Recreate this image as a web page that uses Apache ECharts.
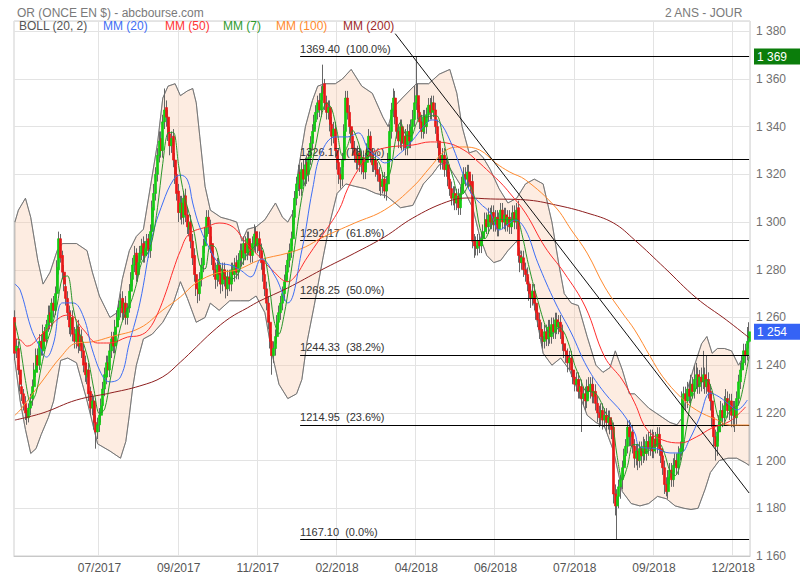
<!DOCTYPE html>
<html><head><meta charset="utf-8">
<script src="https://cdn.jsdelivr.net/npm/echarts@6/dist/echarts.min.js"></script>
<style>html,body{margin:0;padding:0;background:#fff}#c{width:800px;height:580px}</style>
</head><body><div id="c"></div>
<script>
// ---- DATA ----
const opens = [
1260,1246,1247,1238,1231,1228,1224,1221,1218,1222,
1226,1231,1237,1244,1240,1250,1246,1254,1251,1257,
1262,1258,1266,1263,1270,1280,1293,1286,1279,1273,
1268,1262,1255,1260,1253,1250,1256,1248,1252,1246,
1241,1235,1238,1229,1222,1225,1216,1212,1215,1219,
1223,1230,1235,1241,1238,1246,1252,1248,1256,1259,
1264,1268,1262,1266,1260,1264,1271,1276,1282,1287,
1278,1283,1287,1291,1286,1289,1293,1288,1296,1305,
1312,1320,1328,1335,1330,1342,1348,1344,1337,1332,
1336,1326,1320,1313,1304,1308,1302,1311,1303,1297,
1300,1292,1286,1278,1272,1270,1276,1282,1290,1294,
1302,1298,1291,1285,1280,1276,1282,1278,1274,1280,
1277,1272,1277,1274,1280,1278,1283,1279,1284,1288,
1285,1291,1287,1293,1290,1286,1291,1296,1290,1293,
1288,1284,1278,1272,1266,1258,1250,1244,1247,1252,
1258,1262,1266,1270,1275,1279,1284,1288,1293,1302,
1310,1316,1321,1314,1322,1318,1325,1320,1327,1333,
1338,1342,1346,1351,1347,1354,1358,1350,1346,1348,
1341,1336,1339,1330,1325,1320,1318,1326,1338,1352,
1346,1340,1336,1331,1328,1325,1329,1324,1327,1321,
1325,1330,1336,1328,1324,1326,1322,1320,1317,1315,
1318,1313,1316,1326,1338,1347,1352,1344,1338,1334,
1340,1333,1336,1331,1338,1334,1340,1343,1350,1353,
1346,1342,1338,1344,1340,1345,1349,1346,1350,1347,
1340,1334,1328,1325,1328,1322,1324,1318,1314,1310,
1312,1308,1311,1306,1312,1316,1320,1318,1321,1317,
1317,1292,1290,1289,1292,1290,1293,1296,1301,1298,
1303,1300,1304,1299,1302,1297,1301,1305,1300,1303,
1299,1302,1298,1301,1304,1300,1306,1286,1283,1285,
1280,1278,1274,1270,1268,1271,1266,1262,1259,1255,
1252,1250,1254,1251,1256,1252,1257,1254,1259,1256,
1258,1254,1249,1246,1244,1241,1243,1238,1235,1232,
1234,1229,1231,1226,1228,1225,1231,1229,1232,1227,
1229,1224,1220,1218,1221,1217,1219,1216,1218,1215,
1214,1186,1181,1185,1189,1192,1197,1202,1206,1214,
1210,1212,1206,1201,1204,1200,1205,1202,1206,1203,
1208,1205,1210,1204,1209,1206,1211,1205,1202,1197,
1190,1187,1193,1196,1192,1198,1200,1197,1203,1204,
1226,1228,1225,1230,1227,1232,1229,1234,1236,1231,
1235,1233,1236,1231,1234,1229,1225,1218,1210,1206,
1212,1216,1221,1218,1223,1226,1221,1225,1219,1222,
1218,1226,1233,1238,1241,1246,1244,1250];
const closes = [
1245,1248,1238,1232,1228,1224,1220,1218,1222,1225,
1231,1238,1244,1240,1250,1247,1254,1250,1257,1261,
1258,1266,1263,1270,1281,1293,1285,1279,1274,1268,
1262,1256,1260,1253,1250,1255,1248,1252,1246,1240,
1236,1238,1228,1222,1225,1216,1212,1215,1219,1223,
1230,1236,1241,1238,1246,1251,1248,1256,1260,1264,
1267,1262,1266,1260,1264,1271,1276,1282,1286,1278,
1283,1287,1290,1286,1289,1292,1288,1296,1306,1312,
1320,1328,1334,1330,1342,1347,1344,1337,1332,1335,
1326,1320,1312,1304,1308,1302,1310,1303,1298,1300,
1292,1285,1278,1272,1270,1276,1282,1290,1294,1302,
1298,1290,1285,1280,1276,1282,1278,1274,1280,1276,
1272,1277,1274,1280,1278,1282,1279,1284,1288,1285,
1291,1287,1293,1289,1286,1291,1295,1290,1293,1288,
1283,1278,1272,1266,1258,1250,1244,1247,1252,1258,
1262,1266,1270,1275,1279,1284,1288,1293,1302,1310,
1316,1320,1314,1322,1318,1324,1320,1327,1333,1338,
1342,1346,1350,1347,1354,1357,1350,1346,1348,1341,
1336,1339,1330,1325,1320,1318,1326,1338,1352,1346,
1340,1336,1331,1328,1325,1329,1324,1327,1321,1325,
1330,1336,1328,1324,1326,1322,1320,1317,1315,1318,
1313,1316,1326,1338,1347,1352,1344,1338,1334,1340,
1333,1336,1331,1338,1334,1340,1343,1350,1353,1346,
1342,1338,1344,1340,1345,1349,1346,1350,1347,1340,
1334,1328,1325,1328,1322,1324,1318,1314,1310,1312,
1308,1311,1306,1312,1316,1320,1318,1321,1317,1315,
1292,1290,1289,1292,1290,1293,1296,1301,1298,1303,
1300,1304,1299,1302,1297,1301,1305,1300,1303,1299,
1302,1298,1301,1304,1300,1305,1286,1283,1285,1280,
1278,1274,1270,1268,1271,1266,1262,1259,1255,1252,
1250,1254,1251,1256,1252,1257,1254,1259,1256,1258,
1254,1249,1246,1244,1241,1243,1238,1235,1232,1234,
1229,1231,1226,1228,1225,1231,1229,1232,1227,1229,
1224,1220,1218,1221,1217,1219,1216,1218,1215,1213,
1186,1181,1185,1189,1192,1197,1202,1206,1214,1210,
1212,1206,1201,1204,1200,1205,1202,1206,1203,1208,
1205,1210,1204,1209,1206,1211,1205,1202,1197,1190,
1187,1193,1196,1192,1198,1200,1197,1203,1205,1226,
1228,1225,1230,1227,1232,1229,1234,1236,1231,1235,
1233,1236,1231,1234,1229,1225,1218,1210,1206,1212,
1216,1221,1218,1223,1226,1221,1225,1219,1222,1218,
1226,1233,1238,1241,1246,1244,1250,1254];
const highs = [
1263,1251,1250,1240,1234,1230,1227,1223,1224,1228,
1234,1241,1247,1247,1253,1253,1257,1256,1259,1265,
1265,1268,1269,1273,1284,1296,1295,1288,1282,1276,
1271,1265,1263,1263,1256,1258,1259,1255,1255,1249,
1244,1241,1241,1231,1228,1227,1219,1218,1222,1226,
1233,1239,1244,1244,1249,1254,1254,1259,1263,1267,
1270,1271,1268,1269,1266,1274,1279,1285,1290,1289,
1286,1290,1293,1294,1292,1295,1295,1299,1309,1316,
1323,1331,1338,1338,1345,1356,1351,1347,1340,1338,
1339,1329,1323,1316,1311,1311,1313,1314,1306,1303,
1303,1295,1289,1281,1275,1279,1285,1293,1298,1305,
1305,1301,1294,1288,1283,1285,1285,1281,1283,1283,
1280,1280,1280,1283,1283,1285,1286,1287,1291,1291,
1294,1294,1296,1296,1292,1294,1299,1298,1296,1296,
1291,1287,1281,1275,1269,1261,1253,1250,1255,1261,
1265,1269,1273,1278,1282,1287,1291,1296,1305,1313,
1319,1324,1324,1325,1326,1327,1328,1330,1336,1341,
1345,1349,1353,1354,1357,1366,1360,1353,1351,1351,
1344,1342,1342,1333,1328,1323,1329,1341,1355,1355,
1349,1343,1339,1334,1331,1332,1332,1330,1330,1329,
1333,1339,1338,1331,1329,1329,1325,1323,1320,1321,
1321,1319,1329,1341,1350,1356,1355,1347,1341,1343,
1343,1339,1339,1341,1341,1343,1347,1357,1369.4,1358,
1349,1345,1347,1347,1348,1352,1352,1353,1353,1350,
1343,1337,1331,1331,1331,1327,1327,1321,1317,1315,
1315,1314,1314,1315,1319,1323,1323,1324,1324,1320,
1320,1295,1294,1295,1295,1296,1299,1304,1304,1306,
1306,1307,1307,1305,1305,1304,1308,1308,1306,1306,
1305,1305,1304,1307,1307,1308,1309,1289,1288,1288,
1283,1281,1277,1273,1274,1274,1269,1265,1262,1258,
1255,1257,1257,1259,1259,1260,1260,1262,1262,1261,
1261,1257,1252,1249,1247,1246,1246,1241,1238,1237,
1237,1234,1234,1231,1231,1234,1235,1235,1235,1232,
1232,1227,1223,1224,1224,1222,1222,1221,1221,1218,
1216,1190,1188,1192,1194,1200,1205,1209,1217,1217,
1216,1215,1209,1207,1207,1208,1208,1210,1209,1211,
1212,1213,1213,1212,1212,1214,1214,1208,1205,1200,
1193,1196,1199,1199,1201,1203,1203,1206,1208,1229,
1231,1231,1233,1233,1236,1235,1240,1241,1239,1238,
1239,1246,1239,1244,1237,1232,1228,1221,1213,1215,
1219,1225,1224,1227,1230,1229,1228,1228,1225,1225,
1229,1236,1241,1244,1249,1249,1256,1258];
const lows = [
1242,1243,1236,1229,1225,1221,1217,1215,1216,1219,
1223,1228,1235,1237,1238,1244,1244,1247,1249,1254,
1255,1256,1260,1261,1268,1278,1283,1276,1271,1265,
1259,1253,1252,1250,1247,1247,1245,1246,1243,1237,
1233,1232,1225,1219,1219,1213,1205,1209,1212,1216,
1220,1227,1232,1235,1235,1243,1245,1245,1253,1256,
1260,1259,1259,1257,1257,1262,1268,1273,1279,1275,
1275,1280,1284,1283,1283,1286,1285,1285,1293,1302,
1309,1317,1325,1327,1327,1339,1340,1334,1328,1329,
1323,1316,1309,1300,1301,1299,1299,1300,1295,1294,
1289,1282,1275,1269,1266,1267,1273,1279,1287,1291,
1295,1287,1282,1277,1272,1273,1275,1270,1271,1273,
1268,1269,1271,1271,1275,1275,1276,1276,1281,1282,
1282,1284,1284,1286,1283,1283,1288,1287,1287,1285,
1280,1275,1269,1263,1255,1247,1236,1241,1244,1249,
1255,1259,1263,1267,1272,1276,1281,1285,1290,1299,
1307,1313,1311,1311,1315,1315,1316,1317,1324,1330,
1335,1339,1343,1344,1344,1351,1347,1343,1343,1338,
1332,1333,1327,1322,1316,1314,1315,1323,1335,1343,
1337,1333,1328,1325,1322,1322,1321,1320,1318,1318,
1322,1327,1325,1321,1321,1319,1317,1313,1311,1312,
1310,1309,1313,1323,1335,1344,1341,1335,1331,1331,
1330,1330,1328,1328,1331,1331,1337,1340,1347,1343,
1339,1335,1335,1337,1337,1342,1343,1343,1344,1337,
1331,1325,1322,1322,1319,1319,1315,1311,1307,1307,
1305,1305,1303,1303,1309,1313,1315,1315,1314,1312,
1289,1285,1286,1286,1287,1287,1290,1293,1295,1295,
1297,1297,1296,1296,1294,1294,1298,1297,1297,1296,
1296,1295,1295,1298,1297,1297,1283,1279,1280,1277,
1275,1271,1267,1264,1265,1263,1259,1256,1251,1248,
1247,1247,1248,1248,1249,1249,1251,1251,1253,1253,
1251,1246,1243,1241,1237,1238,1235,1232,1229,1229,
1226,1226,1212,1223,1221,1222,1226,1226,1224,1224,
1221,1216,1214,1215,1213,1214,1212,1213,1211,1209,
1182,1177,1167.1,1180,1184,1188,1193,1198,1203,1206,
1206,1203,1197,1198,1196,1197,1198,1199,1200,1200,
1202,1202,1201,1201,1203,1203,1202,1199,1194,1186,
1185,1184,1190,1189,1189,1195,1194,1194,1200,1202,
1222,1221,1222,1224,1224,1226,1226,1230,1228,1228,
1229,1230,1228,1228,1226,1221,1214,1206,1200,1202,
1208,1212,1214,1215,1219,1218,1217,1214,1214,1212,
1215,1223,1230,1235,1238,1240,1242,1247];

// moving averages and bands: [candle index, value]
const mm7 = [[0,1258],[3,1248],[6,1233.6],[9,1224.1],[12,1228.3],[15,1239.3],[18,1248.9],[21,1256.1],[24,1265.1],[27,1276.7],[30,1277.4],[33,1264.6],[36,1254.9],[39,1249.1],[42,1241.1],[45,1229.3],[48,1219.6],[51,1221.6],[54,1233.3],[57,1245.1],[60,1256],[63,1262.1],[66,1266.6],[69,1273.9],[72,1283.1],[75,1286.4],[78,1292.4],[81,1306],[84,1324.6],[87,1337.4],[90,1337.6],[93,1323.7],[96,1311.7],[99,1303.6],[102,1295.1],[105,1281.9],[108,1280.3],[111,1290.3],[114,1289.3],[117,1280.7],[120,1276.9],[123,1276.1],[126,1277.4],[129,1282.3],[132,1286.7],[135,1288.9],[138,1291],[141,1288.3],[144,1276.9],[147,1259.3],[150,1253],[153,1261.4],[156,1274.9],[159,1290.1],[162,1306.1],[165,1317.7],[168,1322.6],[171,1332.9],[174,1344.3],[177,1350],[180,1347.4],[183,1337.9],[186,1327.7],[189,1332.1],[192,1338.4],[195,1333.6],[198,1326.4],[201,1327.4],[204,1327.1],[207,1324.7],[210,1318.7],[213,1320.4],[216,1333.7],[219,1341.9],[222,1336.6],[225,1336],[228,1341.3],[231,1344.6],[234,1344],[237,1344.6],[240,1344.4],[243,1336],[246,1325.6],[249,1318.3],[252,1311.3],[255,1312.1],[258,1315.7],[261,1310.4],[264,1297.9],[267,1293],[270,1297.3],[273,1301],[276,1301.1],[279,1301],[282,1301.1],[285,1301.3],[288,1294.9],[291,1284.4],[294,1275.1],[297,1267.1],[300,1259.3],[303,1253.9],[306,1253.4],[309,1256],[312,1253.7],[315,1247.9],[318,1239.9],[321,1234.6],[324,1229.3],[327,1228.9],[330,1228.1],[333,1224.4],[336,1219.3],[339,1217],[342,1202],[345,1191.9],[348,1197.9],[351,1206.7],[354,1206.7],[357,1203.4],[360,1204.1],[363,1206.4],[366,1207.1],[369,1202.9],[372,1195.7],[375,1193.7],[378,1198.7],[381,1212],[384,1224.7],[387,1230.4],[390,1232.9],[393,1233.7],[396,1229.4],[399,1219.1],[402,1214.4],[405,1219.6],[408,1222],[411,1223.4],[414,1232],[417,1243.7]];
const mm20 = [[0,1274],[3,1271.5],[9,1256],[13,1249.3],[18,1243.4],[22,1249.3],[27,1266.1],[33,1266.1],[39,1260.2],[44,1246.4],[50,1235.1],[54,1233],[60,1235.1],[65,1249.3],[71,1266.1],[78,1293.8],[84,1308],[90,1317.7],[94,1319.7],[98,1317.7],[101,1308],[105,1297.9],[111,1288.3],[116,1282.9],[122,1282],[128,1279.9],[134,1277],[140,1284.6],[148,1277],[155,1266.1],[163,1288.3],[169,1313.5],[174,1329],[182,1335.7],[189,1335.7],[195,1337.4],[201,1330.2],[206,1327.3],[210,1324.8],[219,1329],[226,1334.4],[232,1339.9],[237,1342.8],[241,1342],[247,1334.4],[253,1323.1],[258,1313.5],[264,1308],[270,1303.8],[275,1296.7],[281,1299.6],[284,1300.9],[290,1296.7],[297,1282.9],[307,1266.1],[316,1253.5],[325,1239.2],[335,1228.3],[345,1220],[352,1211.6],[355,1205.7],[364,1205],[372,1203.2],[378,1203.2],[383,1208.6],[389,1218.3],[395,1228.3],[400,1226.7],[406,1223.3],[410,1221.2],[416,1225.4]];
const mm50 = [[0,1251],[3,1250.6],[7,1248],[16,1253.5],[26,1260.2],[31,1261],[39,1254.8],[47,1249.3],[54,1249.3],[64,1251.8],[71,1252.5],[76,1255],[81,1261.5],[86,1271],[90,1280],[94,1288],[99,1295],[109,1298],[116,1299.6],[124,1297.9],[130,1292.5],[135,1288.3],[139,1285.4],[146,1280],[155,1275],[160,1278],[165,1284],[174,1293.8],[184,1305],[189,1314],[195,1322],[201,1328],[210,1331.1],[226,1332.3],[236,1333.6],[245,1333.2],[255,1330.2],[262,1326],[270,1320.6],[276,1316.4],[281,1312.2],[290,1303.8],[301,1289.6],[312,1278.7],[324,1264.4],[335,1243.4],[345,1233.8],[352,1224.2],[359,1213],[368,1208.6],[378,1207.4],[387,1209.9],[396,1213.7],[406,1216.5],[415,1222.5]];
const mm100 = [[0,1219],[3,1221.2],[16,1233.8],[26,1243.4],[35,1249.3],[44,1249.8],[54,1251.8],[71,1255.6],[84,1263.1],[94,1268.6],[103,1274.5],[115,1278.7],[126,1279.9],[139,1284.1],[155,1287],[165,1289.6],[174,1293.3],[193,1299.6],[210,1305.1],[226,1314.7],[236,1323.1],[245,1330.2],[254,1331.5],[264,1330.2],[273,1324.8],[281,1321],[290,1317.7],[307,1306.3],[316,1296.7],[325,1287],[335,1272.8],[345,1261.9],[352,1254.8],[361,1243.4],[368,1235.1],[378,1226.7],[387,1221.2],[399,1217],[406,1214.9],[417,1214.9]];
const mm200 = [[0,1217],[16,1220],[35,1225.4],[54,1228.3],[71,1231.3],[84,1235.1],[94,1241.3],[103,1247.6],[112,1253.9],[122,1259.8],[132,1264],[139,1266.9],[155,1272.4],[174,1279.9],[193,1287],[210,1293.8],[226,1301.7],[245,1308.4],[257,1310.1],[270,1309.7],[290,1309.3],[307,1307.2],[325,1303.8],[340,1299.6],[352,1292.5],[369,1280.8],[387,1268.2],[404,1259],[417,1251.5]];
const bollUp = [[0,1300],[2,1305],[6,1310],[9,1302],[13,1284],[16,1274],[20,1279],[24,1288],[27,1291],[35,1291],[41,1288],[44,1279],[48,1269],[54,1260],[58,1262],[61,1276],[65,1288],[69,1294],[73,1297],[77,1315],[81,1333],[84,1352],[87,1357],[91,1358],[94,1353],[98,1355],[101,1356],[103,1350],[105,1336],[108,1315],[111,1305],[117,1302],[122,1301],[126,1300],[129,1292],[132,1297],[137,1298],[142,1301],[148,1308],[152,1302],[155,1300],[158,1304],[161,1322],[165,1340],[169,1351],[172,1357],[176,1358],[182,1358],[186,1360],[191,1364],[197,1357],[203,1354],[209,1344],[212,1340],[215,1348],[220,1352],[228,1358],[235,1358],[241,1362],[247,1364],[251,1354],[254,1340],[258,1329],[262,1330],[266,1327],[270,1322],[275,1314],[280,1308],[285,1310],[290,1316],[295,1318],[300,1316],[305,1300],[309,1282],[312,1270],[316,1266],[320,1265],[325,1252],[330,1240],[334,1237],[338,1239],[341,1246],[345,1238],[349,1228],[352,1228],[356,1225],[360,1222],[364,1220],[368,1218],[372,1216],[376,1215],[379,1218],[382,1230],[386,1240],[390,1249],[393,1252],[396,1245],[399,1247],[403,1247],[407,1246],[411,1240],[415,1245],[417,1250]];
const bollLow = [[0,1242],[3,1225],[6,1213],[9,1203],[12,1205],[15,1211],[19,1218],[22,1225],[26,1242],[30,1243],[35,1241],[41,1225],[47,1207],[54,1204],[60,1201],[63,1208],[65,1219],[67,1231],[69,1240],[73,1251],[78,1253],[84,1258],[90,1266],[94,1275],[98,1268],[103,1258],[108,1260],[111,1266],[116,1263],[122,1267],[128,1267],[133,1267],[137,1269],[142,1262],[146,1245],[150,1232],[155,1226],[160,1228],[163,1234],[166,1250],[170,1265],[175,1285],[179,1300],[183,1312],[188,1316],[193,1315],[199,1314],[205,1312],[211,1311],[219,1306],[226,1307],[232,1316],[237,1320],[241,1324],[245,1325],[251,1318],[256,1312],[260,1306],[264,1294],[268,1286],[272,1283],[276,1284],[280,1288],[285,1292],[290,1281],[295,1265],[300,1245],[305,1240],[310,1243],[315,1238],[320,1229],[325,1219],[330,1216],[335,1214],[340,1204],[345,1187],[350,1182],[355,1181],[360,1182],[365,1185],[370,1184],[375,1181],[380,1180],[384,1179.5],[388,1180],[392,1188],[395,1195],[400,1200],[405,1201],[410,1201],[415,1199],[417,1198]];
const trend = [[216,1379],[417,1186.4]];
const fibValues = [1369.40,1326.17,1292.17,1268.25,1244.33,1214.95,1167.10];
const fibPct = ['100.0%','78.6%','61.8%','50.0%','38.2%','23.6%','0.0%'];
const fibStart = 162;
const tickIdx = [48,93,138,183,228,273,318,363,408];
const tickLabels = ['07/2017','09/2017','11/2017','02/2018','04/2018','06/2018','07/2018','09/2018','12/2018'];
const legendNames = ['BOLL (20, 2)','MM (20)','MM (50)','MM (7)','MM (100)','MM (200)'];
const topTag = 1369.4;

// ---- CHART ----
const N = closes.length;
const cats = closes.map((_, i) => String(i));
const FONT = '"Liberation Sans", Arial, sans-serif';
const fmt = v => String(Math.round(v)).replace(/\B(?=(\d{3})+(?!\d))/g, ' ');
const isTick = i => tickIdx.indexOf(i) >= 0;

const wick = opens.map((o, i) => [o, closes[i], lows[i], highs[i]]);
const body = opens.map((o, i) => [o, closes[i], Math.min(o, closes[i]), Math.max(o, closes[i])]);

const legendColors = ['#555555','#3d6ef5','#ff3434','#2e9a2e','#ff8a2e','#9e2a2a'];
const legendX = [19,103,165,223,276,343];

const lineS = (name, data, color, smooth, z) => ({
  name, type: 'line', data, symbol: 'none', smooth, z,
  lineStyle: { color, width: 1 }, silent: true, animation: false
});

const chart = echarts.init(document.getElementById('c'), null, { renderer: 'svg' });
chart.setOption({
  animation: false,
  backgroundColor: '#ffffff',
  textStyle: { fontFamily: FONT },
  title: [
    { text: 'OR (ONCE EN $) - abcbourse.com', left: 12, top: 2,
      textStyle: { fontSize: 12, color: '#7a7a7a', fontWeight: 'normal', fontFamily: FONT } },
    { text: '2 ANS - JOUR', right: 52, top: 2,
      textStyle: { fontSize: 12, color: '#7a7a7a', fontWeight: 'normal', fontFamily: FONT } }
  ],
  graphic: legendNames.map((t, k) => ({
    type: 'text', left: legendX[k], top: 20, z: 100,
    style: { text: t, fill: legendColors[k], font: '12px ' + FONT }
  })),
  grid: { left: 14, right: 50, top: 21, bottom: 24, show: true, borderColor: '#cfcfcf', borderWidth: 1, backgroundColor: 'transparent' },
  xAxis: {
    type: 'category', data: cats, boundaryGap: true,
    axisLine: { show: true, lineStyle: { color: '#c8c8c8' } },
    axisTick: { show: false },
    axisLabel: { interval: (i) => isTick(i), formatter: (v) => tickLabels[tickIdx.indexOf(Number(v))] || '',
      color: '#555', fontSize: 12, margin: 6, fontFamily: FONT },
    splitLine: { show: true, interval: (i) => isTick(i), lineStyle: { color: '#e3e3e3', width: 1 } }
  },
  yAxis: {
    type: 'value', position: 'right', min: 1160, max: 1384.3, interval: 20, scale: true,
    axisLine: { show: false }, axisTick: { show: false },
    axisLabel: { formatter: v => (Math.abs(v % 20) < 0.01 ? fmt(v) : ''), color: '#707070', fontSize: 12, margin: 6, fontFamily: FONT },
    splitLine: { show: true, lineStyle: { color: '#e3e3e3', width: 1 } }
  },
  series: [
    { type: 'custom', z: 1, silent: true, data: [[0, 1200]],
      renderItem: (params, api) => {
        const pts = [];
        bollUp.forEach(p => pts.push(api.coord(p)));
        for (let k = bollLow.length - 1; k >= 0; k--) pts.push(api.coord(bollLow[k]));
        return { type: 'polygon', shape: { points: pts }, style: { fill: 'rgba(250,200,168,0.34)', stroke: '#888', lineWidth: 0.6 } };
      } },
    lineS('bollUp', bollUp, '#777777', false, 2),
    lineS('bollLow', bollLow, '#777777', false, 2),
    { name: 'wick', type: 'candlestick', data: wick, barWidth: 1, z: 3, silent: true,
      itemStyle: { color: '#666666', color0: '#666666', borderColor: '#666666', borderColor0: '#666666', borderWidth: 1 } },
    { name: 'body', type: 'candlestick', data: body, barWidth: 2.5, z: 4, silent: true,
      itemStyle: { color: '#14cc14', color0: '#e81818', borderColor: '#14cc14', borderColor0: '#e81818', borderWidth: 0.7 } },
    lineS('MM (200)', mm200, '#8e1f1f', 0.4, 5),
    lineS('MM (100)', mm100, '#ff8a2e', 0.4, 5),
    lineS('MM (50)', mm50, '#ff2d2d', 0.4, 5),
    lineS('MM (20)', mm20, '#3d6ef5', 0.4, 5),
    lineS('MM (7)', mm7, '#2a962a', 0.3, 6),
    { name: 'trend', type: 'line', data: trend, symbol: 'none', z: 7, silent: true,
      lineStyle: { color: '#111', width: 1 },
      markLine: {
        silent: true, symbol: ['none', 'none'], animation: false,
        lineStyle: { color: '#000', width: 1, type: 'solid' },
        data: fibValues.map((v, k) => [
          { coord: [fibStart, v], label: { show: true, position: 'insideStartTop', distance: [0, 2],
              formatter: v.toFixed(2) + '  (' + fibPct[k] + ')', color: '#333', fontSize: 11, fontFamily: FONT } },
          { coord: [N - 1, v] }
        ])
      } },
    { name: 'tags', type: 'line', data: [[N - 1, closes[N - 1]]], symbol: 'none', z: 8, silent: true, clip: false,
      lineStyle: { width: 0 },
      markLine: {
        silent: true, symbol: ['none', 'none'], animation: false,
        lineStyle: { color: 'rgba(0,0,0,0)', width: 1, type: 'solid' },
        label: { show: true, position: 'end', distance: 4, color: '#ffffff', fontSize: 12, padding: [2, 14, 2, 3], fontFamily: FONT },
        data: [
          { yAxis: topTag, label: { formatter: fmt(topTag), backgroundColor: '#0b7d0b' } },
          { yAxis: closes[N - 1], label: { formatter: fmt(closes[N - 1]), backgroundColor: '#3563f5' } }
        ]
      } }
  ]
});
</script></body></html>
